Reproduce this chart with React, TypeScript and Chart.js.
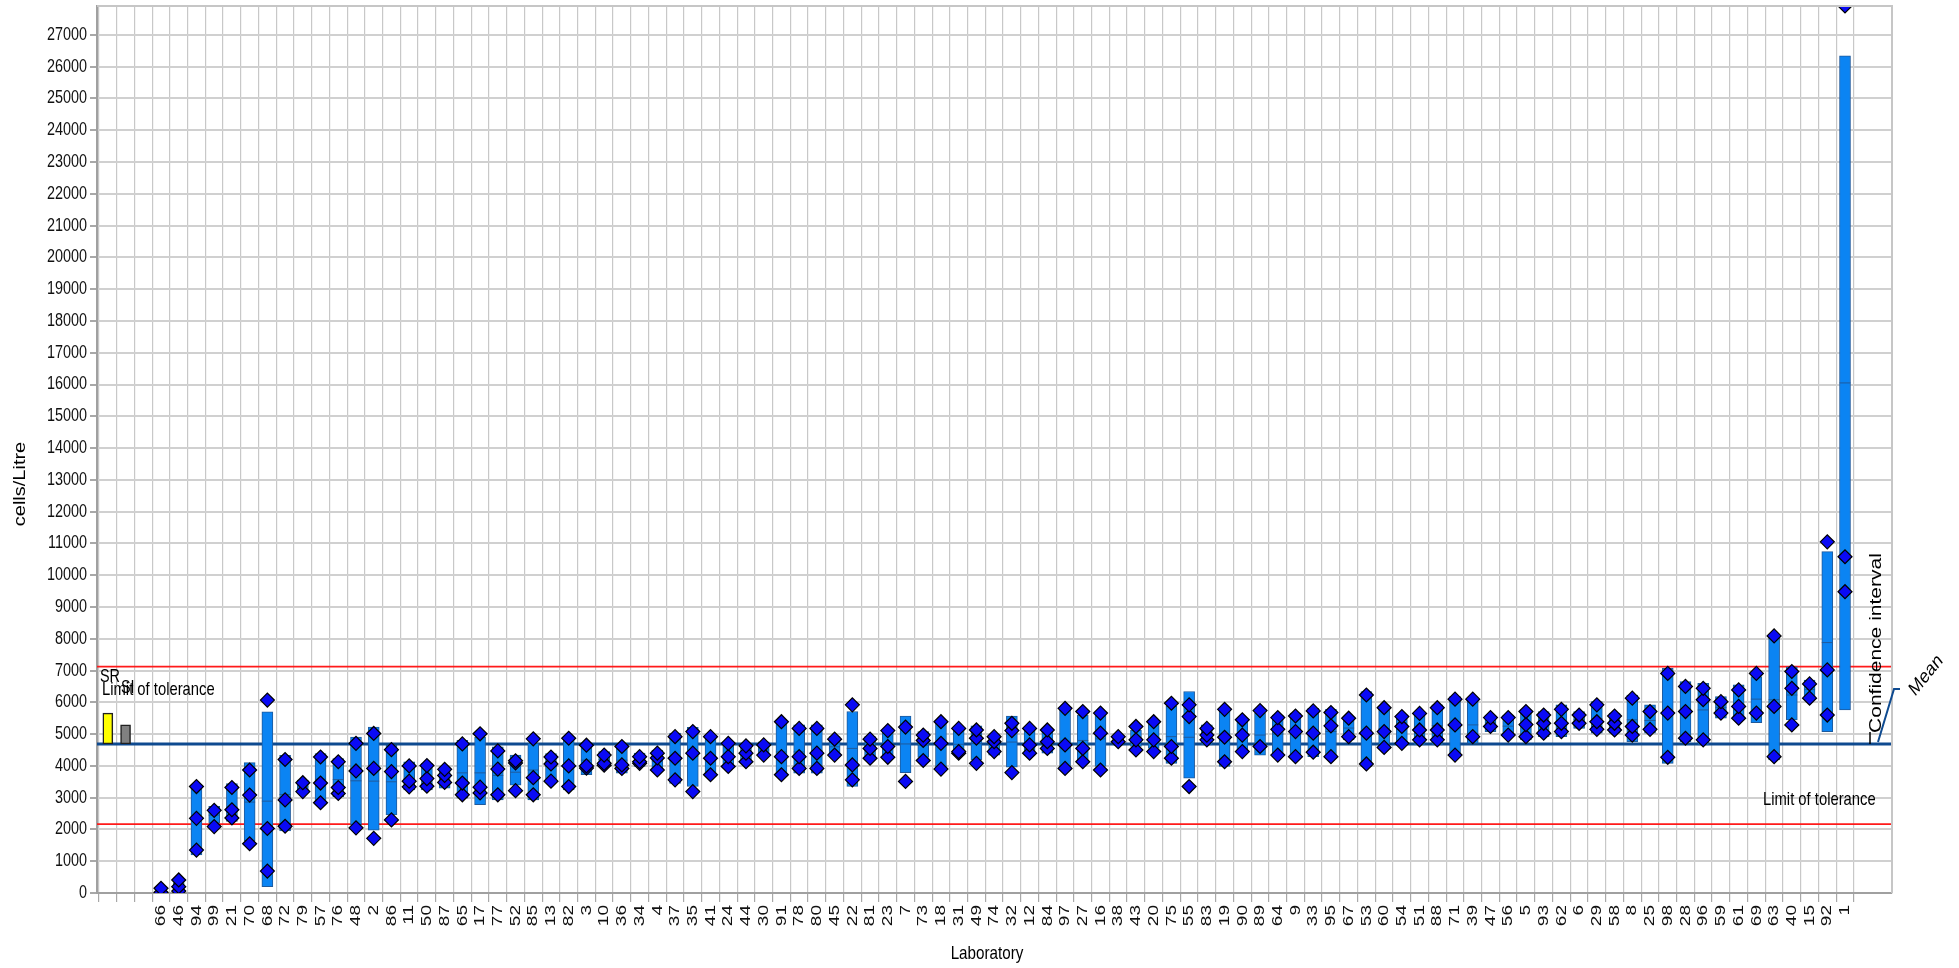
import React, { useEffect, useRef } from 'react';
import { Chart, registerables } from 'chart.js';

Chart.register(...registerables);

// ---------------- data ----------------
const labs = [
  '66', '46', '94', '99', '21', '70', '68', '72', '79', '57',
  '76', '48', '2', '86', '11', '50', '87', '65', '17', '77',
  '52', '85', '13', '82', '3', '10', '36', '34', '4', '37',
  '35', '41', '24', '44', '30', '91', '78', '80', '45', '22',
  '81', '23', '7', '73', '18', '31', '49', '74', '32', '12',
  '84', '97', '27', '16', '38', '43', '20', '75', '55', '83',
  '19', '90', '89', '64', '9', '33', '95', '67', '53', '60',
  '54', '51', '88', '71', '39', '47', '56', '5', '93', '62',
  '6', '29', '58', '8', '25', '98', '28', '96', '59', '61',
  '69', '63', '40', '15', '92', '1',
];

// confidence interval (box) low / high and its centre line
const ciLow = [
  null, 120, 1200, 2200, 2250, 1650, 200, 1950, 3140, 2770,
  3030, 2140, 1980, 2460, 3240, 3240, 3300, 2980, 2780, 2930,
  3390, 2930, 3600, 3240, 3720, 3980, 3770, 3980, 3850, 3450,
  3350, 3660, 3980, 4130, 4290, 3660, 3770, 3770, 4290, 3350,
  4240, 4340, 3790, 4270, 3920, 4340, 4190, 4340, 3960, 4340,
  4400, 3870, 4080, 3980, 4660, 4610, 4550, 4080, 3610, 4660,
  3980, 4400, 4340, 4290, 4240, 4290, 4240, 4820, 3980, 4550,
  4660, 4660, 4660, 4290, 4710, 5080, 4920, 4820, 4920, 4920,
  5180, 5030, 5030, 4760, 5030, 4080, 4760, 4660, 5500, 5500,
  5360, 4190, 5450, 6180, 5080, 5760,
];
const ciHigh = [
  null, 330, 3400, 2730, 3440, 4100, 5700, 4330, 3550, 4390,
  4230, 4910, 5220, 4650, 4130, 4080, 3970, 4800, 4910, 4600,
  4340, 4720, 4390, 4920, 4710, 4450, 4660, 4400, 4500, 5030,
  5210, 4970, 4760, 4710, 4760, 5450, 5290, 5290, 4920, 5710,
  4920, 5130, 5570, 5080, 5390, 5180, 5260, 4970, 5570, 5220,
  5180, 5810, 5600, 5710, 4970, 5130, 5390, 5870, 6340, 5290,
  5810, 5500, 5660, 5600, 5660, 5810, 5780, 5550, 6340, 5870,
  5600, 5660, 5920, 6180, 6130, 5600, 5600, 5760, 5710, 5920,
  5710, 6020, 5660, 6230, 5920, 7070, 6650, 6600, 6180, 6550,
  6810, 8070, 7120, 6700, 10740, 26340,
];
const ciMid = [
  null, null, 2350, 2450, 2700, 2860, 2890, 3100, 3340, 3580,
  3570, 3530, 3520, 3500, 3600, 3610, 3650, 3780, 3780, 3700,
  3800, 3870, 3980, 4080, 4180, 4200, 4180, 4180, 4150, 4240,
  4300, 4290, 4330, 4390, 4500, 4440, 4440, 4480, 4600, 4550,
  4550, 4680, 4690, 4650, 4680, 4680, 4700, 4700, 4750, 4740,
  4810, 4780, 4800, 4850, 4840, 4850, 4880, 4920, 4900, 4990,
  4940, 4960, 4970, 5000, 5000, 5070, 5080, 5190, 5110, 5170,
  5170, 5200, 5270, 5250, 5290, 5360, 5250, 5290, 5320, 5400,
  5460, 5490, 5350, 5450, 5430, 5610, 5690, 5760, 5840, 5920,
  6100, 6080, 6230, 6400, 7880, 16050,
];

// individual replicate results (diamonds)
const rep1 = [
  150, 410, 3350, 2600, 3320, 3870, 6070, 4200, 3470, 4280,
  4130, 4710, 5020, 4510, 4000, 4010, 3890, 4690, 5010, 4470,
  4160, 4850, 4280, 4870, 4650, 4340, 4610, 4290, 4400, 4920,
  5080, 4920, 4710, 4630, 4660, 5390, 5180, 5180, 4840, 5920,
  4840, 5110, 5220, 4970, 5390, 5180, 5130, 4920, 5340, 5180,
  5130, 5810, 5710, 5660, 4920, 5240, 5390, 5970, 5920, 5180,
  5780, 5450, 5740, 5520, 5570, 5730, 5680, 5500, 6230, 5830,
  5550, 5650, 5830, 6100, 6100, 5520, 5520, 5710, 5600, 5780,
  5600, 5920, 5570, 6130, 5710, 6910, 6500, 6440, 6020, 6390,
  6910, 8090, 6970, 6580, 11050, 27910,
];
const rep2 = [
  20, 200, 2350, 2090, 2620, 3080, 2030, 2930, 3190, 3460,
  3320, 3840, 3920, 3820, 3520, 3600, 3700, 3460, 3330, 3900,
  4090, 3630, 4060, 4000, 4000, 4080, 4030, 4130, 4250, 4240,
  4400, 4240, 4290, 4400, 4340, 4290, 4290, 4400, 4340, 4030,
  4550, 4610, 3510, 4800, 4710, 4450, 4870, 4760, 5110, 4660,
  4760, 4660, 4550, 5030, 4760, 4820, 4820, 4610, 5550, 4970,
  4900, 4970, 4610, 5150, 5080, 5030, 5260, 4920, 5030, 5080,
  5240, 5130, 5130, 5290, 4920, 5240, 4970, 5300, 5340, 5340,
  5340, 5390, 5340, 5240, 5150, 5660, 5710, 6080, 5660, 5870,
  5660, 5870, 6440, 6130, 7020, 10580,
];
const rep3 = [
  null, 60, 1350, null, 2360, 1550, 690, 2100, null, 2840,
  3130, 2050, 1720, 2300, 3340, 3360, 3480, 3090, 3150, 3090,
  3220, 3090, 3520, 3350, 3930, 4020, 3920, 4080, 3870, 3560,
  3190, 3720, 3980, 4130, null, 3720, 3920, 3920, null, 3560,
  4240, 4270, null, 4170, 3900, 4400, 4080, 4450, 3790, 4400,
  4550, 3920, 4130, 3870, null, 4500, 4450, 4240, 3350, 4820,
  4130, 4450, null, 4340, 4290, 4430, 4290, null, 4060, 4580,
  4710, 4820, 4820, 4340, null, null, null, 4920, 5030, 5080,
  null, 5150, 5130, 4970, null, 4270, 4870, 4820, null, 5500,
  null, 4290, 5290, null, 5600, 9480,
];

const meanValue = 4690;
const upperLimit = 7125;
const lowerLimit = 2165;
const srValue = 5660;
const siValue = 5290;
const yTicks = [
  0, 1000, 2000, 3000, 4000, 5000, 6000, 7000, 8000, 9000,
  10000, 11000, 12000, 13000, 14000, 15000, 16000, 17000, 18000, 19000,
  20000, 21000, 22000, 23000, 24000, 25000, 26000, 27000,
];
const yMax = 27910;

// slot layout on the x axis: 1 = SR, 2 = SI, 3 = empty, 4.. = laboratories
const SR_SLOT = 1;
const SI_SLOT = 2;
const FIRST_LAB_SLOT = 4;
const X_MIN = 0.389;
const X_MAX = 101.651;

const TEXT_FONT = '"Liberation Sans", Arial, sans-serif';
const SQUEEZE = 0.8; // the original picture is horizontally squeezed

function drawText(
  ctx: CanvasRenderingContext2D,
  text: string,
  x: number,
  y: number,
  size: number,
  angle = 0,
  align: CanvasTextAlign = 'left',
  color = '#000000',
) {
  ctx.save();
  ctx.translate(x, y);
  ctx.scale(SQUEEZE, 1);
  ctx.rotate(angle);
  ctx.font = `${size}px ${TEXT_FONT}`;
  ctx.textAlign = align;
  ctx.textBaseline = 'middle';
  ctx.fillStyle = color;
  ctx.fillText(text, 0, 0);
  ctx.restore();
}

const annotationPlugin = {
  id: 'annotations',
  afterDraw(chart: any) {
    const ctx: CanvasRenderingContext2D = chart.ctx;
    const { left, right, top, bottom } = chart.chartArea;
    const xs = chart.scales.x;
    const ys = chart.scales.y;
    const meanY = ys.getPixelForValue(meanValue);

    // frame (top / right)
    ctx.save();
    ctx.strokeStyle = '#c6c6c6';
    ctx.lineWidth = 2;
    ctx.beginPath();
    ctx.moveTo(left, top);
    ctx.lineTo(right, top);
    ctx.lineTo(right, bottom);
    ctx.stroke();
    ctx.restore();

    // axis tick labels (positioned by the chart's scales)
    yTicks.forEach((v) => {
      drawText(ctx, String(v), left - 10, ys.getPixelForValue(v), 18, 0, 'right', '#111111');
    });
    labs.forEach((name, i) => {
      const x = xs.getPixelForValue(FIRST_LAB_SLOT + i);
      drawText(ctx, name, x, bottom + 12, 19, -Math.PI / 2, 'right', '#111111');
    });

    // texts
    drawText(ctx, 'SR', 100, 677, 18);
    drawText(ctx, 'Limit of tolerance', 102, 690, 18.5);
    drawText(ctx, 'SI', 121, 688, 18);
    drawText(ctx, 'Limit of tolerance', 1763, 800, 18.5);
    drawText(ctx, 'Confidence interval', 1876, meanY - 11, 21, -Math.PI / 2);
    drawText(ctx, 'Mean', 1912, 693, 20, -Math.PI / 4);
    drawText(ctx, 'cells/Litre', 21, 484, 20, -Math.PI / 2, 'center');
    drawText(ctx, 'Laboratory', 987, 954, 19, 0, 'center');

    // confidence interval tick and mean leader line
    ctx.save();
    ctx.strokeStyle = '#000000';
    ctx.lineWidth = 1.5;
    ctx.beginPath();
    ctx.moveTo(1870, meanY - 12);
    ctx.lineTo(1870, meanY);
    ctx.stroke();
    ctx.strokeStyle = '#0e4a90';
    ctx.lineWidth = 2;
    ctx.beginPath();
    ctx.moveTo(1878, meanY - 2);
    ctx.lineTo(1894, 689);
    ctx.lineTo(1900, 689);
    ctx.stroke();
    ctx.restore();
  },
};

export default function App() {
  const canvasRef = useRef<HTMLCanvasElement | null>(null);

  useEffect(() => {
    const canvas = canvasRef.current;
    if (!canvas) return;

    const slot = (i: number) => FIRST_LAB_SLOT + i;

    const boxData = labs
      .map((_, i) => (ciLow[i] == null ? null : { x: slot(i), y: [ciLow[i], ciHigh[i]] }))
      .filter(Boolean);
    const midData = labs
      .map((_, i) => (ciMid[i] == null ? null : { x: slot(i), y: ciMid[i] }))
      .filter(Boolean);
    const repData: { x: number; y: number }[] = [];
    [rep3, rep2, rep1].forEach((arr) =>
      arr.forEach((v, i) => {
        if (v != null) repData.push({ x: slot(i), y: v as number });
      }),
    );

    const xTickSlots = Array.from({ length: FIRST_LAB_SLOT - 1 + labs.length }, (_, i) => i + 1);

    const chart = new Chart(canvas, {
      type: 'bar',
      data: {
        datasets: [
          {
            type: 'line',
            label: 'Upper limit of tolerance',
            data: [{ x: X_MIN, y: upperLimit }, { x: X_MAX, y: upperLimit }],
            borderColor: '#ff1a1a',
            borderWidth: 1.8,
            pointRadius: 0,
            order: 10,
          },
          {
            type: 'line',
            label: 'Lower limit of tolerance',
            data: [{ x: X_MIN, y: lowerLimit }, { x: X_MAX, y: lowerLimit }],
            borderColor: '#ff1a1a',
            borderWidth: 1.8,
            pointRadius: 0,
            order: 10,
          },
          {
            type: 'line',
            label: 'Mean',
            data: [{ x: X_MIN, y: meanValue }, { x: X_MAX, y: meanValue }],
            borderColor: '#0e4a90',
            borderWidth: 3,
            pointRadius: 0,
            order: 9,
          },
          {
            type: 'bar',
            label: 'SR',
            data: [{ x: SR_SLOT, y: [meanValue, srValue] }],
            backgroundColor: '#ffff00',
            borderColor: '#202020',
            borderWidth: 1.5,
            borderSkipped: false,
            barThickness: 10,
            grouped: false,
            order: 5,
          },
          {
            type: 'bar',
            label: 'SI',
            data: [{ x: SI_SLOT, y: [meanValue, siValue] }],
            backgroundColor: '#808080',
            borderColor: '#202020',
            borderWidth: 1.5,
            borderSkipped: false,
            barThickness: 10,
            grouped: false,
            order: 5,
          },
          {
            type: 'bar',
            label: 'Confidence interval',
            data: boxData as any,
            backgroundColor: '#0b84f3',
            borderColor: '#1f5a9c',
            borderWidth: 1,
            borderSkipped: false,
            barThickness: 11,
            grouped: false,
            order: 4,
          },
          {
            type: 'scatter',
            label: 'Lab mean',
            data: midData as any,
            pointStyle: 'line',
            pointRadius: 5.5,
            borderColor: '#1f5a9c',
            borderWidth: 1,
            order: 3,
          },
          {
            type: 'scatter',
            label: 'Results',
            data: repData,
            pointStyle: 'rectRot',
            pointRadius: 7,
            backgroundColor: '#0a0af5',
            borderColor: '#000000',
            borderWidth: 1.2,
            clip: 0,
            order: 1,
          },
        ],
      },
      options: {
        responsive: false,
        maintainAspectRatio: false,
        animation: false,
        layout: { padding: { top: 6, right: 67, left: 0, bottom: 0 }, autoPadding: false },
        plugins: {
          legend: { display: false },
          tooltip: { enabled: false },
          title: { display: false },
        },
        scales: {
          x: {
            type: 'linear',
            min: X_MIN,
            max: X_MAX,
            offset: false,
            afterBuildTicks: (s: any) => {
              s.ticks = xTickSlots.map((v) => ({ value: v }));
            },
            afterFit: (s: any) => {
              s.height = 75;
            },
            grid: { color: '#c8c8c8', lineWidth: 1.2, tickLength: 9, tickColor: '#a8a8a8' },
            border: { color: '#a0a0a0', width: 2 },
            ticks: { display: false, autoSkip: false },
          },
          y: {
            min: 0,
            max: yMax,
            afterBuildTicks: (s: any) => {
              s.ticks = yTicks.map((v) => ({ value: v }));
            },
            afterFit: (s: any) => {
              s.width = 97;
            },
            grid: { color: '#d0d0d0', lineWidth: 2, tickLength: 7, tickColor: '#a8a8a8' },
            border: { color: '#a0a0a0', width: 2 },
            ticks: { display: false },
          },
        },
      } as any,
      plugins: [annotationPlugin],
    });

    return () => chart.destroy();
  }, []);

  return (
    <div style={{ position: 'absolute', left: 0, top: 0, width: 1959, height: 968, background: '#ffffff' }}>
      <canvas ref={canvasRef} width={1959} height={968} style={{ display: 'block', width: 1959, height: 968 }} />
    </div>
  );
}
